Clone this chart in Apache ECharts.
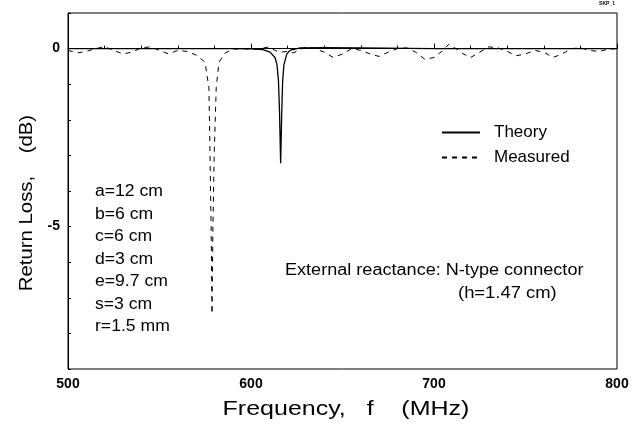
<!DOCTYPE html>
<html><head><meta charset="utf-8">
<script src="https://cdn.jsdelivr.net/npm/echarts@6/dist/echarts.min.js"></script>
<style>html,body{margin:0;padding:0;background:#fff}#c{width:640px;height:426px}</style>
</head><body><div id="c"></div>
<script>
// Theory curve: [frequency MHz, return loss dB]
var theoryFreq = [500, 550, 590, 600, 606.5, 610.4, 613.1, 614.2, 615.0, 615.6, 616.2, 616.8, 617.3, 618.0, 619.6, 621.3, 626.8, 640, 660, 700, 750, 800];
var theoryDb   = [0, 0, 0, -0.01, -0.03, -0.1, -0.25, -0.45, -0.9, -1.8, -3.22, -1.8, -0.9, -0.45, -0.15, -0.05, 0.02, 0.03, 0.02, 0, 0, 0];
// Measured curve
var measFreq = [500, 505, 510, 515, 520, 525, 530, 535, 540, 545, 550, 555, 560, 565, 570, 574.9, 577.0, 577.6, 578.2, 578.7, 579.2, 579.9, 581.0, 582.5, 586, 590, 595, 600, 605, 610, 613, 616, 620, 623, 626, 630, 635, 640, 645, 650, 655, 660, 665, 670, 675, 680, 685, 690, 695, 700, 705, 708, 712, 716, 720, 725, 730, 735, 740, 745, 750, 755, 760, 765, 770, 775, 780, 785, 790, 795, 800];
var measDb   = [-0.05, -0.12, -0.08, 0.0, 0.05, -0.05, -0.15, -0.1, 0.02, 0.05, -0.05, -0.15, -0.05, -0.08, -0.18, -0.38, -1.1, -2.95, -5.0, -7.45, -5.0, -2.95, -1.1, -0.38, -0.12, -0.02, 0.0, -0.02, 0.0, 0.05, -0.05, -0.1, -0.08, -0.12, -0.05, 0.05, 0.0, -0.1, -0.25, -0.15, 0.0, -0.05, -0.15, -0.22, -0.1, 0.0, 0.02, -0.1, -0.3, -0.25, -0.05, 0.12, 0.0, -0.15, -0.25, -0.1, 0.05, 0.02, -0.08, -0.2, -0.15, -0.05, -0.1, -0.25, -0.15, 0.0, 0.02, -0.05, -0.08, -0.02, 0.0];
var xLabels = [500, 600, 700, 800];
var yLabels = [0, -5];
var seriesNames = ['Theory', 'Measured'];
var paramLines = ['a=12 cm', 'b=6 cm', 'c=6 cm', 'd=3 cm', 'e=9.7 cm', 's=3 cm', 'r=1.5 mm'];
var note1 = 'External reactance: N-type connector';
var note2 = '(h=1.47 cm)';
var xTitle = 'Frequency,   f    (MHz)';
var yTitle = 'Return Loss,    (dB)';

function pairs(a, b) { return a.map(function (v, i) { return [v, b[i]]; }); }
var F = 'Liberation Sans, Arial, sans-serif';
var chart = echarts.init(document.getElementById('c'), null, {renderer: 'canvas'});
var gfx = [];
paramLines.forEach(function (t, i) {
  gfx.push({type: 'text', x: 95, y: 184 + i * 22.5, scaleX: 1.1, style: {text: t, font: '16px ' + F, fill: '#000'}});
});
gfx.push({type: 'text', x: 285, y: 263, scaleX: 1.13, style: {text: note1, font: '16px ' + F, fill: '#000'}});
gfx.push({type: 'text', x: 458, y: 286, scaleX: 1.15, style: {text: note2, font: '16px ' + F, fill: '#000'}});
gfx.push({type: 'text', x: 346, y: 409, scaleX: 1.25, style: {text: xTitle, font: '20px ' + F, fill: '#000', align: 'center', verticalAlign: 'middle'}});
gfx.push({type: 'text', x: 27, y: 203, scaleX: 1.07, rotation: Math.PI / 2, style: {text: yTitle, font: '19px ' + F, fill: '#000', align: 'center', verticalAlign: 'middle'}});
gfx.push({type: 'text', x: 607, y: 4, style: {text: 'SKP_1', font: 'bold 5px ' + F, fill: '#000', align: 'center', verticalAlign: 'middle'}});

chart.setOption({
  animation: false,
  backgroundColor: '#fff',
  grid: {left: 68, right: 23, top: 13, bottom: 57, show: true, borderColor: '#000', borderWidth: 1, backgroundColor: 'transparent'},
  legend: {
    data: seriesNames, orient: 'vertical', left: 436, top: 119, itemWidth: 38, itemHeight: 14, itemGap: 8,
    itemStyle: {opacity: 0},
    textStyle: {fontFamily: F, fontSize: 17, color: '#000', padding: [0, 0, 0, 9]}
  },
  xAxis: {
    type: 'value', min: 500, max: 800, interval: 100,
    axisLine: {lineStyle: {color: '#000', width: 1}},
    axisTick: {inside: true, length: 5, lineStyle: {color: '#000'}},
    minorTick: {show: true, splitNumber: 5, length: 3, lineStyle: {color: '#000'}},
    splitLine: {show: false},
    axisLabel: {margin: 8, fontFamily: F, fontSize: 14, fontWeight: 'bold', color: '#000',
      formatter: function (v) { return xLabels.indexOf(v) >= 0 ? String(v) : ''; }}
  },
  yAxis: {
    type: 'value', min: -9, max: 1, interval: 1,
    axisLine: {show: true, lineStyle: {color: '#000', width: 1}},
    axisTick: {show: true, inside: true, length: 3, lineStyle: {color: '#000'}},
    splitLine: {show: false},
    axisLabel: {margin: 8, fontFamily: F, fontSize: 14, fontWeight: 'bold', color: '#000',
      formatter: function (v) { return yLabels.indexOf(v) >= 0 ? String(v) : ''; }}
  },
  series: [
    {name: seriesNames[0], type: 'line', data: pairs(theoryFreq, theoryDb), showSymbol: false, symbol: 'none',
      lineStyle: {color: '#000', width: 1.3, type: 'solid'}, itemStyle: {color: '#000'}, z: 3},
    {name: seriesNames[1], type: 'line', data: pairs(measFreq, measDb), showSymbol: false, symbol: 'none',
      lineStyle: {color: '#000', width: 1, type: [5, 5]}, itemStyle: {color: '#000'}, z: 2}
  ],
  graphic: gfx
});
</script></body></html>
